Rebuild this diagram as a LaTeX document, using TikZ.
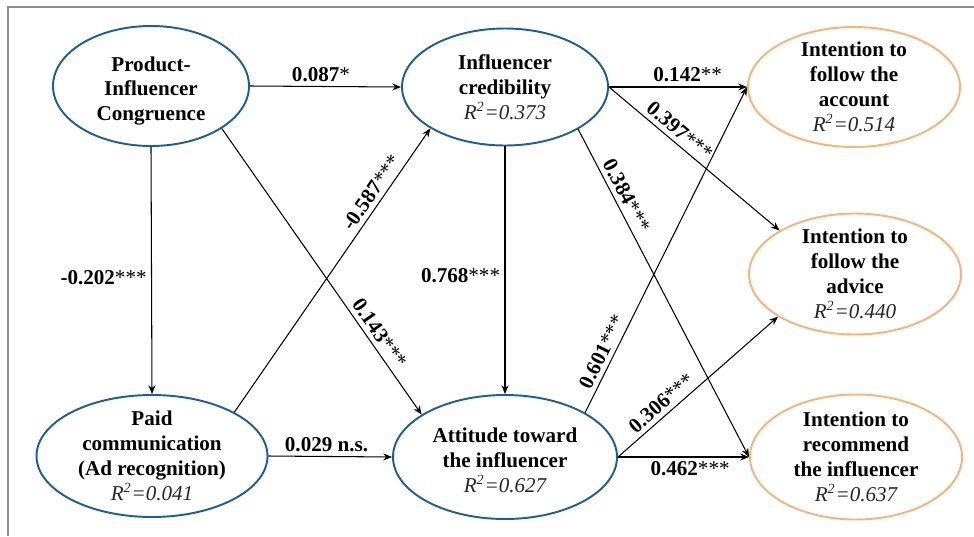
\documentclass[tikz,border=0pt]{standalone}
\usepackage{fontspec}
\setmainfont{Liberation Serif}
\usetikzlibrary{shapes.geometric,arrows.meta}

\definecolor{latentblue}{HTML}{1F5C9E}
\definecolor{outorange}{HTML}{F7B27E}
\definecolor{framegray}{HTML}{8C8C8C}

\tikzset{
  latent/.style={ellipse, draw=latentblue, line width=1.1pt, inner sep=0pt},
  outcome/.style={latent, draw=outorange},
  txt/.style={align=center, inner sep=0pt, font=\bfseries\fontsize{12}{14.2}\selectfont},
  effect/.style={-{Stealth[length=5pt,width=4pt]}, line width=0.6pt},
  coef/.style={font=\bfseries\fontsize{12}{14}\selectfont, inner sep=2.5pt}
}
\newcommand{\rsq}[1]{{\mdseries\itshape\color{black!85}R\textsuperscript{2}=#1}}

\begin{document}
\begin{tikzpicture}[x=0.2mm, y=-0.2mm]
\useasboundingbox (0,0) rectangle (974,536);

\draw [framegray, line width=0.6pt] (8,536) -- (8,7) -- (974,7);

% latent constructs
\node [latent, minimum width=39.2mm, minimum height=24mm,
  label={[txt, yshift=-1mm]center:{Product-\\Influencer\\Congruence}}] (pic) at (151,86) {};
\node [latent, minimum width=41.2mm, minimum height=23.4mm,
  label={[txt]center:{Influencer\\credibility\\\rsq{0.373}}}] (ic) at (505,87) {};
\node [latent, minimum width=46.2mm, minimum height=24.4mm,
  label={[txt]center:{Paid\\communication\\(Ad recognition)\\\rsq{0.041}}}] (paid) at (152,456) {};
\node [latent, minimum width=44.8mm, minimum height=24.8mm,
  label={[txt, yshift=-0.6mm]center:{Attitude toward\\the influencer\\\rsq{0.627}}}] (att) at (505,457) {};

% outcomes
\node [outcome, minimum width=42.4mm, minimum height=24mm,
  label={[txt]center:{Intention to\\follow the\\account\\\rsq{0.514}}}] (acc) at (854,87) {};
\node [outcome, minimum width=42.4mm, minimum height=24.2mm,
  label={[txt]center:{Intention to\\follow the\\advice\\\rsq{0.440}}}] (adv) at (855,274) {};
\node [outcome, minimum width=42.4mm, minimum height=25mm,
  label={[txt]center:{Intention to\\recommend\\the influencer\\\rsq{0.637}}}] (rec) at (856,457) {};

% paths
\draw [effect] (pic.east) -- node [coef, above, pos=.47] (c1) {0.087\textmd{*}} (ic.west);
\draw [effect] (pic.south) -- node [coef, left, pos=.53] (c2) {-0.202\textmd{***}} (paid.north);
\draw [effect] (pic.-31) -- node [coef, sloped, above, pos=.74] (c3) {0.143\textmd{***}} (att.153);
\draw [effect] (paid.28) -- node [coef, sloped, above, pos=.75] (c4) {-0.587\textmd{***}} (ic.209);
\draw [effect] (ic.south) -- node [coef, left, pos=.52] (c5) {0.768\textmd{***}} (att.north);
\draw [effect] (paid.east) -- node [coef, above, pos=.47] (c6) {0.029 n.s.} (att.west);
\draw [effect] (ic.east) -- node [coef, above, pos=.57] (c7) {0.142\textmd{**}} (acc.west);
\draw [effect] (ic.east) -- node [coef, sloped, above, pos=.37] (c8) {0.397\textmd{***}} (adv.150);
\draw [effect] (ic.-30) -- node [coef, sloped, above, pos=.22] (c9) {0.384\textmd{***}} (rec.west);
\draw [effect] (att.29) -- node [coef, sloped, above, pos=.17] (c10) {0.601\textmd{***}} (acc.west);
\draw [effect] (att.east) -- node [coef, sloped, above, pos=.32] (c11) {0.306\textmd{***}} (adv.209);
\draw [effect] (att.east) -- node [coef, below, pos=.55] (c12) {0.462\textmd{***}} (rec.west);
\end{tikzpicture}
\end{document}
